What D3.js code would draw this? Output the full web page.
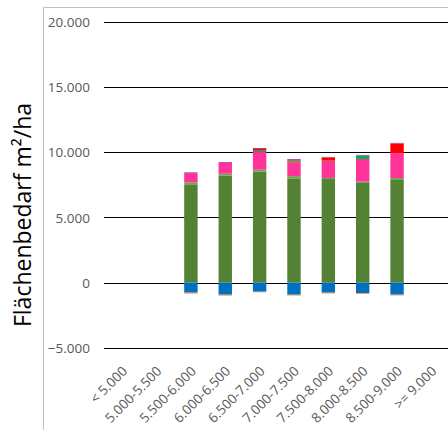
<!DOCTYPE html>
<html><head><meta charset="utf-8">
<script src="https://cdn.jsdelivr.net/npm/d3@7"></script>
<style>body{margin:0;background:#fff}svg{display:block}</style>
</head><body><svg id="c" width="448" height="430"></svg>
<script>
const categories = ["< 5.000","5.000-5.500","5.500-6.000","6.000-6.500","6.500-7.000","7.000-7.500","7.500-8.000","8.000-8.500","8.500-9.000",">= 9.000"];
const darkGreen  = [0,0,7535,8190,8500,7990,7940,7635,7865,0];
const lightGreen = [0,0,150,150,150,170,80,100,150,0];
const pink       = [0,0,710,840,1355,1070,1300,1740,1900,0];
const green      = [0,0,0,0,100,80,0,260,0,0];
const brown      = [0,0,0,0,0,60,70,0,0,0];
const red        = [0,0,0,0,130,40,200,0,740,0];
const purple     = [0,0,50,60,75,60,40,50,50,0];
const blue       = [0,0,-765,-920,-690,-920,-765,-790,-920,0];
const orange     = [0,0,-80,-80,-50,-70,-70,-80,-60,0];
const yTicks = [-5000,0,5000,10000,15000,20000];
const yTitle = "Flächenbedarf m²/ha";

const series = [
  {v: darkGreen, c:"#548235"},
  {v: lightGreen, c:"#6FA84A"},
  {v: pink, c:"#FF3399"},
  {v: green, c:"#00B050"},
  {v: brown, c:"#C55A11"},
  {v: red, c:"#FF0000"},
  {v: purple, c:"#8E3C9E"},
  {v: blue, c:"#0070C0"},
  {v: orange, c:"#F4A460"}
];

const svg = d3.select("#c");
const fmt = v => v === 0 ? "0" : d3.format(",")(v).replace(/,/g, ".");

const y = d3.scaleLinear().domain([-5000, 20000]).range([348, 21.5]);
const x = d3.scaleBand().domain(categories).range([105, 448.6]).padding(0);
const bw = x.bandwidth() * 0.39;

// frame
svg.append("path").attr("d", "M43.5,430V7.5H448").attr("fill","none").attr("stroke","#BFBFBF").attr("stroke-width",1);

// gridlines
const yAxis = d3.axisLeft(y).tickValues(yTicks).tickFormat(fmt).tickSize(0).tickPadding(0);
const g = svg.append("g");
yTicks.forEach(t => {
  const yy = Math.round(y(t)) + 0.5;
  g.append("line").attr("x1",104).attr("x2",448).attr("y1",yy).attr("y2",yy).attr("stroke","#000").attr("stroke-width",1);
});
const ax = svg.append("g").attr("transform","translate(90,0)").call(yAxis);
ax.select(".domain").remove();
ax.selectAll("text").attr("font-family","'Open Sans', sans-serif").attr("font-size",13.5).attr("fill","#595959").attr("dy","0.35em");

// bars
categories.forEach((cat, i) => {
  let pos = 0, neg = 0;
  series.forEach(s => {
    const v = s.v[i];
    if (!v) return;
    let y0, y1;
    if (v > 0) { y0 = pos; y1 = pos + v; pos = y1; }
    else { y0 = neg; y1 = neg + v; neg = y1; }
    svg.append("rect")
      .attr("x", x(cat) + (x.bandwidth() - bw) / 2)
      .attr("width", bw)
      .attr("y", Math.min(y(y0), y(y1)))
      .attr("height", Math.abs(y(y0) - y(y1)))
      .attr("fill", s.c);
  });
});

// x labels
svg.append("g").selectAll("text").data(categories).join("text")
  .attr("transform", d => `translate(${x(d) + x.bandwidth()/2 + 6},${372}) rotate(-45)`)
  .attr("text-anchor","end")
  .attr("font-family","'Open Sans', sans-serif").attr("font-size",13.5).attr("fill","#595959")
  .text(d => d);

// y title
svg.append("text").attr("transform","translate(31,215) rotate(-90)")
  .attr("text-anchor","middle")
  .attr("font-family","'Open Sans', sans-serif").attr("font-size",23).attr("fill","#000")
  .text(yTitle);
</script></body></html>
